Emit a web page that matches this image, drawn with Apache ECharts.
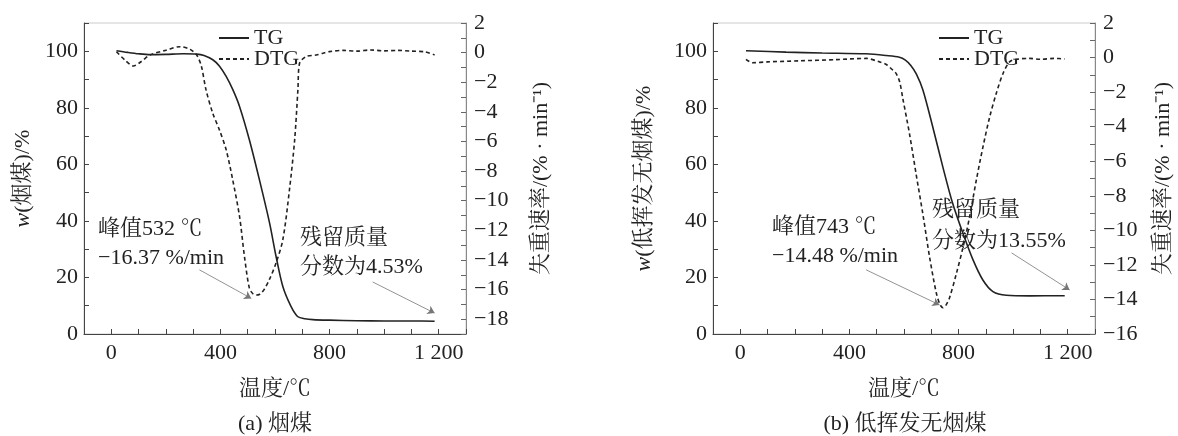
<!DOCTYPE html>
<html>
<head>
<meta charset="utf-8">
<script src="https://cdn.jsdelivr.net/npm/echarts@6/dist/echarts.min.js"></script>
<style>html,body{margin:0;padding:0;background:#fff}#c{width:1178px;height:436px}</style>
</head>
<body>
<div id="c"></div>
<script>
// ---- Data ----
// (a) 烟煤
const A_TG_T = [19, 60, 100, 142, 200, 264, 313, 340, 372, 396, 421, 445, 470, 506, 543, 580, 604, 629, 659, 684, 710, 739, 800, 900, 1000, 1100, 1185];
const A_TG_W = [100.2, 99.6, 99.1, 98.8, 98.9, 99.1, 99.0, 98.5, 97.0, 94.8, 91.1, 86.5, 80.5, 68.7, 54.5, 39.3, 27.4, 16.7, 9.7, 6.1, 5.4, 5.1, 4.9, 4.7, 4.6, 4.6, 4.53];
const A_DTG_T = [19, 50, 81, 110, 142, 203, 252, 289, 313, 330, 347, 372, 396, 421, 445, 470, 488, 506, 520, 532, 545, 560, 580, 604, 629, 653, 672, 684, 690, 714, 751, 776, 800, 850, 900, 950, 1000, 1050, 1100, 1150, 1185];
const A_DTG_V = [0.06, -0.5, -0.9, -0.6, -0.16, 0.18, 0.4, 0.22, -0.16, -0.9, -2.5, -4.1, -5.2, -6.56, -8.59, -11.06, -13.76, -15.9, -16.3, -16.37, -16.3, -16.0, -15.3, -14.2, -12.6, -9.26, -5.9, -2.5, -0.72, -0.27, -0.16, -0.04, 0.07, 0.15, 0.1, 0.18, 0.12, 0.15, 0.1, 0.05, -0.16];
// (b) 低挥发无烟煤
const B_TG_T = [21, 168, 300, 461, 535, 583, 605, 625, 645, 669, 705, 742, 778, 816, 853, 889, 926, 975, 1061, 1189];
const B_TG_W = [100.2, 99.7, 99.4, 99.1, 98.5, 97.9, 96.9, 95.0, 92.0, 86.4, 73.4, 59.2, 46.3, 35.6, 26.2, 19.1, 15.0, 13.7, 13.5, 13.55];
const B_DTG_T = [21, 30, 45, 100, 217, 350, 461, 510, 535, 559, 571, 584, 596, 620, 645, 669, 694, 718, 732, 743, 755, 767, 792, 816, 840, 865, 889, 914, 938, 963, 987, 1012, 1061, 1100, 1150, 1189];
const B_DTG_V = [-0.1, -0.2, -0.3, -0.25, -0.19, -0.12, -0.05, -0.25, -0.4, -0.73, -0.92, -1.4, -2.4, -4.4, -6.8, -9.05, -11.57, -13.6, -14.3, -14.48, -14.3, -13.9, -12.5, -11.0, -9.25, -7.1, -5.2, -3.44, -2.08, -0.92, -0.25, -0.1, -0.05, -0.1, -0.05, -0.08];
// tick label values
const X_LABELS = [0, 400, 800, 1200];
const W_LABELS = [0, 20, 40, 60, 80, 100];
// annotation arrows in data units [temperature, w]
const ARROW_A_PEAK = [[323, 22.7], [513, 12.6]];
const ARROW_A_RES = [[958, 18.4], [1185, 7.4]];
const ARROW_B_PEAK = [[461, 22.7], [730, 10.3]];
const ARROW_B_RES = [[994, 28.7], [1207, 15.6]];

const zip = (a, b) => a.map((v, i) => [v, b[i]]);
const FONT = "'Liberation Serif','Times New Roman','Noto Serif CJK SC','Noto Sans CJK SC',serif";
const TXT = '#222';
const FS = 22;

function xAxis(g) {
  return {
    type: 'value', gridIndex: g, min: -100, max: 1300, interval: 100,
    axisLine: { onZero: false, lineStyle: { color: '#444', width: 1 } },
    axisTick: { inside: true, length: 5, lineStyle: { color: '#444' } },
    axisLabel: {
      margin: 8, color: TXT, fontSize: FS, fontFamily: FONT,
      formatter: v => X_LABELS.includes(v) ? (v >= 1000 ? '1 ' + String(v).slice(1) : String(v)) : ''
    },
    splitLine: { show: false },
    name: '温度/℃', nameLocation: 'middle', nameGap: 44,
    nameTextStyle: { color: TXT, fontSize: FS, fontFamily: FONT }
  };
}
function yLeft(g, name, gap) {
  return {
    type: 'value', gridIndex: g, position: 'left', min: 0, max: 110, interval: 10,
    axisLine: { show: true, onZero: false, lineStyle: { color: '#444', width: 1 } },
    axisTick: { show: true, inside: true, length: 5, lineStyle: { color: '#444' } },
    axisLabel: { margin: 6, color: TXT, fontSize: FS, fontFamily: FONT,
      formatter: v => W_LABELS.includes(v) ? String(v) : '' },
    splitLine: { show: false },
    name: name, nameLocation: 'middle', nameGap: gap, nameRotate: 90,
    nameTextStyle: { color: TXT, fontSize: FS, fontFamily: FONT,
      rich: { i: { fontStyle: 'italic', fontSize: FS, fontFamily: FONT, color: TXT } } }
  };
}
function yRight(g, min, gap) {
  return {
    type: 'value', gridIndex: g, position: 'right', min: min, max: 2, interval: 1,
    axisLine: { show: true, onZero: false, lineStyle: { color: '#888', width: 1 } },
    axisTick: { show: true, inside: true, length: 5, lineStyle: { color: '#666' } },
    axisLabel: { margin: 8, color: TXT, fontSize: FS, fontFamily: FONT,
      formatter: v => (Math.round(v) % 2 === 0) ? (v < 0 ? '\u2212' + (-v) : String(v)) : '' },
    splitLine: { show: false },
    name: '失重速率/(% · min⁻¹)', nameLocation: 'middle', nameGap: gap, nameRotate: 90,
    nameTextStyle: { color: TXT, fontSize: FS, fontFamily: FONT }
  };
}
function arrowLine(pairs) {
  return {
    silent: true, symbol: ['none', 'arrow'], symbolSize: 7,
    lineStyle: { color: '#777', width: 0.8, type: 'solid' },
    label: { show: false },
    data: pairs.map(p => [{ coord: p[0] }, { coord: p[1] }])
  };
}
const tgStyle = { color: '#222', width: 1.6, type: 'solid' };
const dtgStyle = { color: '#222', width: 1.6, type: [4, 3] };

function txt(x, y, s, align) {
  return { type: 'text', x: x, y: y, silent: true,
    style: { text: s, fill: TXT, fontSize: FS, fontFamily: FONT, align: align || 'left', verticalAlign: 'middle' } };
}
function legend(left) {
  return { orient: 'vertical', left: left, top: 22, itemWidth: 30, itemHeight: 12, itemGap: -1,
    data: ['TG', 'DTG'], itemStyle: { opacity: 0, borderWidth: 0 },
    textStyle: { color: TXT, fontSize: FS, fontFamily: FONT, lineHeight: 18 } };
}

const option = {
  animation: false,
  backgroundColor: '#fff',
  grid: [
    { left: 84, top: 23, width: 382, height: 311, show: true, borderColor: '#ccc', borderWidth: 1 },
    { left: 713, top: 23, width: 382, height: 311, show: true, borderColor: '#ccc', borderWidth: 1 }
  ],
  xAxis: [xAxis(0), xAxis(1)],
  yAxis: [
    yLeft(0, '{i|w}(烟煤)/%', 50),
    yRight(0, -19, 64),
    yLeft(1, '{i|w}(低挥发无烟煤)/%', 58),
    yRight(1, -16, 57)
  ],
  legend: [legend(213), legend(933)],
  series: [
    { name: 'TG', type: 'line', xAxisIndex: 0, yAxisIndex: 0, data: zip(A_TG_T, A_TG_W),
      symbol: 'none', smooth: 0.3, lineStyle: tgStyle, itemStyle: { color: '#222' },
      markLine: arrowLine([ARROW_A_PEAK, ARROW_A_RES]) },
    { name: 'DTG', type: 'line', xAxisIndex: 0, yAxisIndex: 1, data: zip(A_DTG_T, A_DTG_V),
      symbol: 'none', smooth: 0.3, lineStyle: dtgStyle, itemStyle: { color: '#222' } },
    { name: 'TG', type: 'line', xAxisIndex: 1, yAxisIndex: 2, data: zip(B_TG_T, B_TG_W),
      symbol: 'none', smooth: 0.3, lineStyle: tgStyle, itemStyle: { color: '#222' },
      markLine: arrowLine([ARROW_B_PEAK, ARROW_B_RES]) },
    { name: 'DTG', type: 'line', xAxisIndex: 1, yAxisIndex: 3, data: zip(B_DTG_T, B_DTG_V),
      symbol: 'none', smooth: 0.3, lineStyle: dtgStyle, itemStyle: { color: '#222' } }
  ],
  graphic: [
    txt(98, 229, '峰值532 ℃'),
    txt(98, 258, '\u221216.37 %/min'),
    txt(300, 238, '残留质量'),
    txt(300, 267, '分数为4.53%'),
    txt(772, 227, '峰值743 ℃'),
    txt(772, 256, '\u221214.48 %/min'),
    txt(932, 210, '残留质量'),
    txt(932, 241, '分数为13.55%'),
    txt(275, 424, '(a) 烟煤', 'center'),
    txt(905, 424, '(b) 低挥发无烟煤', 'center')
  ]
};
const chart = echarts.init(document.getElementById('c'), null, { renderer: 'canvas' });
chart.setOption(option);
</script>
</body>
</html>
